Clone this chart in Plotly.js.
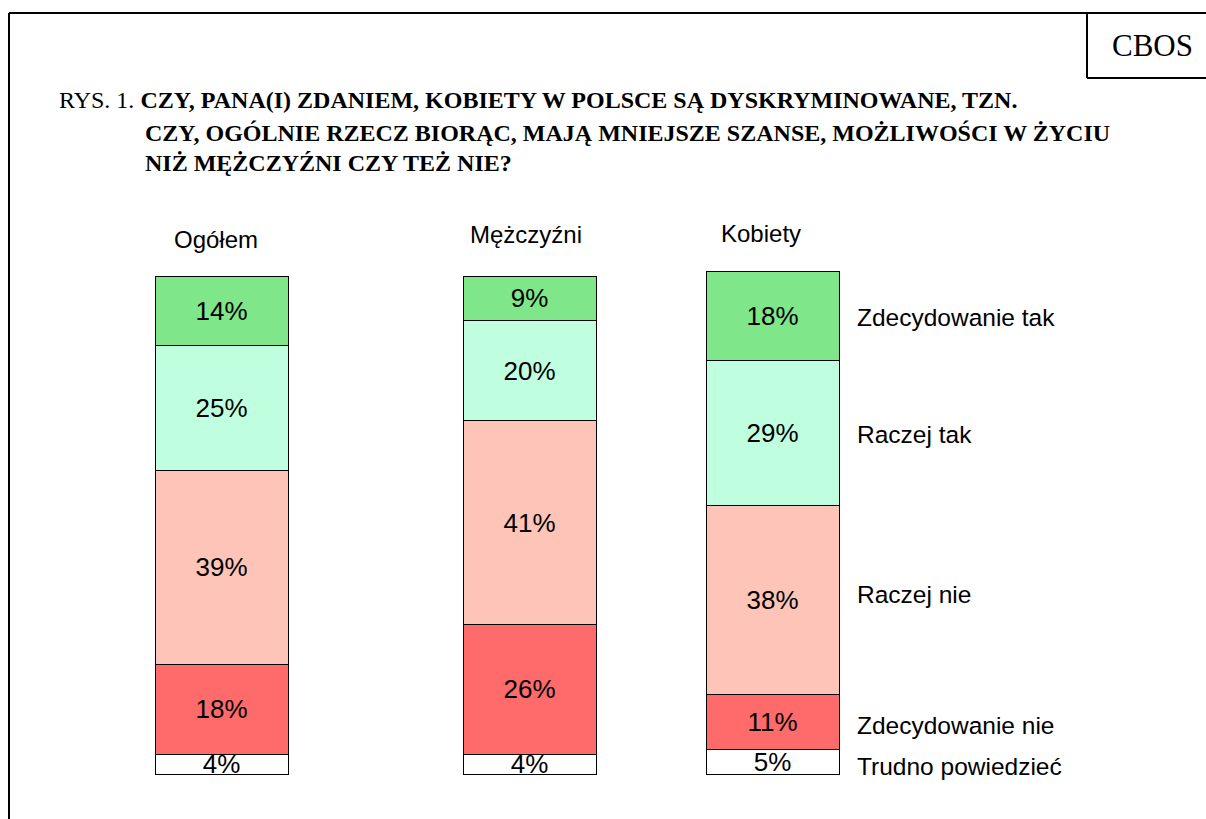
<!DOCTYPE html>
<html><head><meta charset="utf-8">
<script src="https://cdn.plot.ly/plotly-3.0.1.min.js"></script>
<style>html,body{margin:0;padding:0;background:#fff}#chart{width:1206px;height:819px}</style>
</head><body><div id="chart"></div>
<script>
// ---- data ----
const groups = ['Ogółem', 'Mężczyźni', 'Kobiety'];
const answers = ['Trudno powiedzieć', 'Zdecydowanie nie', 'Raczej nie', 'Raczej tak', 'Zdecydowanie tak'];
const trudnoPowiedziec = [4, 4, 5];
const zdecydowanieNie = [18, 26, 11];
const raczejNie = [39, 41, 38];
const raczejTak = [25, 20, 29];
const zdecydowanieTak = [14, 9, 18];
const titleLines = [
  'RYS. 1. <b>CZY, PANA(I) ZDANIEM, KOBIETY W POLSCE SĄ DYSKRYMINOWANE, TZN.</b>',
  '<b>CZY, OGÓLNIE RZECZ BIORĄC, MAJĄ MNIEJSZE SZANSE, MOŻLIWOŚCI W ŻYCIU</b>',
  '<b>NIŻ MĘŻCZYŹNI CZY TEŻ NIE?</b>'
];

// ---- styling / layout constants ----
const W = 1206, H = 819;
const colors = ['#ffffff', '#ff6a6a', '#ffc4b8', '#bfffdf', '#7fe68a'];
const xCenters = [221.5, 529.5, 772.5];
const barWidth = 133;
const pxPerUnit = 4.98, baseY = 774;
const yRange = [-(H - baseY) / pxPerUnit, baseY / pxPerUnit];
const sans = 'Liberation Sans, Arial, sans-serif';
const serif = 'Liberation Serif, Times New Roman, serif';
const series = [trudnoPowiedziec, zdecydowanieNie, raczejNie, raczejTak, zdecydowanieTak];

const px = v => v / W;
const py = v => 1 - v / H;

const traces = series.map((vals, i) => ({
  type: 'bar',
  name: answers[i],
  x: xCenters,
  y: vals,
  width: barWidth,
  marker: {color: colors[i], line: {color: '#000', width: 1}},
  text: vals.map(v => v + '%'),
  textposition: 'inside',
  insidetextanchor: 'middle',
  textangle: 0,
  constraintext: 'none',
  insidetextfont: {family: sans, size: 26, color: '#000'},
  hoverinfo: 'skip',
  cliponaxis: false
}));

const annotations = [];
// title
const titleX = [57, 143, 143], titleY = [100, 133, 163];
titleLines.forEach((t, i) => annotations.push({
  xref: 'paper', yref: 'paper', x: px(titleX[i]), y: py(titleY[i]),
  xanchor: 'left', yanchor: 'middle', showarrow: false, text: t,
  font: {family: serif, size: 24, color: '#000'}
}));
// CBOS
annotations.push({xref: 'paper', yref: 'paper', x: px(1152), y: py(45), xanchor: 'center', yanchor: 'middle',
  showarrow: false, text: 'CBOS', font: {family: serif, size: 31, color: '#000'}});
// group labels
const groupLabelX = [215.5, 526, 761], groupLabelY = [239, 235, 233];
groups.forEach((g, i) => annotations.push({
  xref: 'paper', yref: 'paper', x: px(groupLabelX[i]), y: py(groupLabelY[i]),
  xanchor: 'center', yanchor: 'middle', showarrow: false, text: g,
  font: {family: sans, size: 24, color: '#000'}
}));
// answer labels next to last bar
const lastIdx = groups.length - 1;
const labelShift = [-5, -4, 5, -2, -2];
let cum = 0;
series.forEach((vals, i) => {
  const mid = cum + vals[lastIdx] / 2;
  cum += vals[lastIdx];
  annotations.push({
    xref: 'paper', yref: 'y', x: px(855), y: mid, yshift: labelShift[i],
    xanchor: 'left', yanchor: 'middle', showarrow: false, text: answers[i],
    font: {family: sans, size: 24.5, color: '#000'}
  });
});

const shapes = [
  {type: 'line', xref: 'paper', yref: 'paper', x0: px(9), x1: 1.01, y0: py(13), y1: py(13), line: {color: '#000', width: 2}},
  {type: 'line', xref: 'paper', yref: 'paper', x0: px(9), x1: px(9), y0: py(13), y1: -0.01, line: {color: '#000', width: 2}},
  {type: 'line', xref: 'paper', yref: 'paper', x0: px(1087), x1: px(1087), y0: py(13), y1: py(78), line: {color: '#000', width: 2}},
  {type: 'line', xref: 'paper', yref: 'paper', x0: px(1087), x1: 1.01, y0: py(78), y1: py(78), line: {color: '#000', width: 2}}
];

const layout = {
  width: W, height: H,
  margin: {l: 0, r: 0, t: 0, b: 0, pad: 0},
  paper_bgcolor: '#fff', plot_bgcolor: '#fff',
  barmode: 'stack',
  showlegend: false,
  xaxis: {range: [0, W], visible: false, fixedrange: true},
  yaxis: {range: yRange, visible: false, fixedrange: true},
  annotations: annotations,
  shapes: shapes
};

Plotly.newPlot('chart', traces, layout, {displayModeBar: false, staticPlot: true});
</script>
</body></html>
